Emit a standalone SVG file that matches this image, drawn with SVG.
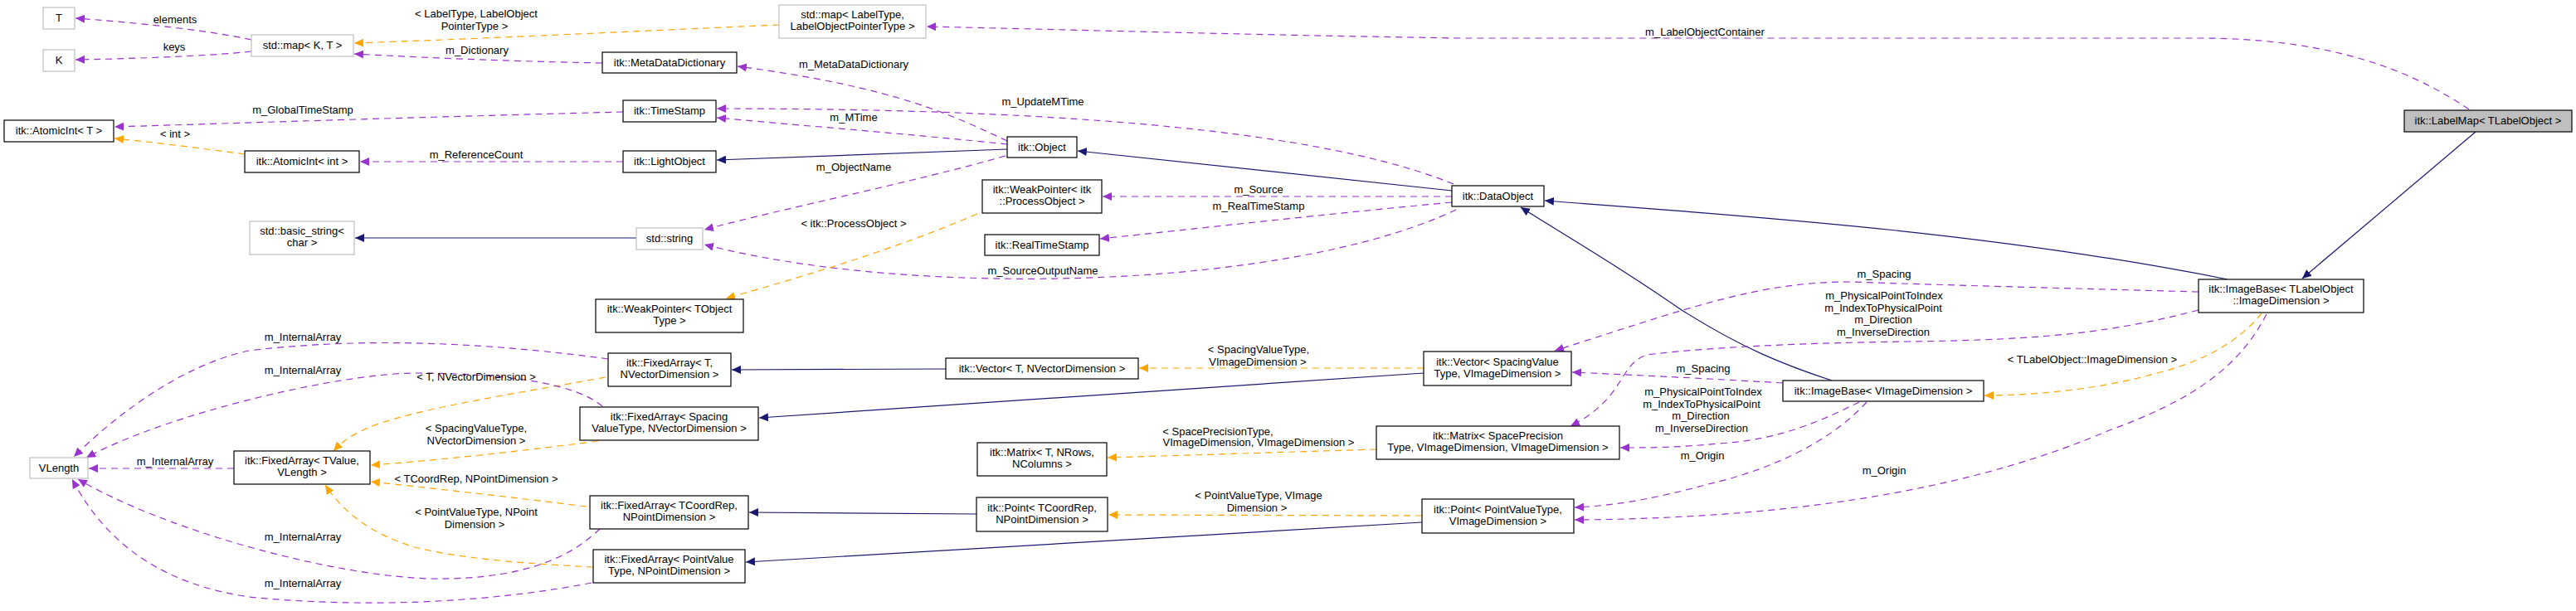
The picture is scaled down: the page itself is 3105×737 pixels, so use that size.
<svg xmlns="http://www.w3.org/2000/svg" width="3105" height="737" viewBox="0 0 3105 737">
<style>
text{font-family:"Liberation Sans",Arial,sans-serif;font-size:13px;fill:#000}
.n text{text-anchor:middle}
.b{fill:#fff;stroke:#000;stroke-width:1.2}
.g{fill:#fff;stroke:#bfbfbf;stroke-width:1.2}
.u{fill:none;stroke:#9a32cd;stroke-width:1.2;stroke-dasharray:8,6;marker-end:url(#mu)}
.t{fill:none;stroke:#ffa500;stroke-width:1.2;stroke-dasharray:8,6;marker-end:url(#mt)}
.i{fill:none;stroke:#191970;stroke-width:1.2;marker-end:url(#mi)}
.l text{text-anchor:middle}
</style>
<defs>
<marker id="mu" markerUnits="userSpaceOnUse" markerWidth="12" markerHeight="10" refX="11" refY="5" orient="auto"><path d="M0,0 L11,5 L0,10 z" fill="#9a32cd"/></marker>
<marker id="mt" markerUnits="userSpaceOnUse" markerWidth="12" markerHeight="10" refX="11" refY="5" orient="auto"><path d="M0,0 L11,5 L0,10 z" fill="#ffa500"/></marker>
<marker id="mi" markerUnits="userSpaceOnUse" markerWidth="12" markerHeight="10" refX="11" refY="5" orient="auto"><path d="M0,0 L11,5 L0,10 z" fill="#191970"/></marker>
</defs>
<rect width="3105" height="737" fill="#fff"/>
<g id="connectors">
<path class="u" d="M303,48 C250,36 150,26 91,22"/>
<path class="u" d="M303,62 C250,68 150,71 91,72"/>
<path class="t" d="M939,30 C800,36 600,46 427,52"/>
<path class="u" d="M726,76 C620,74 520,70 427,65"/>
<path class="u" d="M751,135 C550,140 300,148 138,153"/>
<path class="t" d="M295,186 C250,180 190,172 138,167"/>
<path class="u" d="M751,195 L434,195"/>
<path class="i" d="M767,287 L428,287"/>
<path class="i" d="M1214,180 L864,193"/>
<path class="u" d="M1214,170 C1150,140 1080,105 889,80"/>
<path class="u" d="M1214,174 C1100,162 950,150 864,142"/>
<path class="u" d="M1752,222 C1600,160 1300,131 864,131"/>
<path class="u" d="M1212,188 C1100,220 950,250 849,277"/>
<path class="i" d="M1750,230 L1299,182"/>
<path class="u" d="M1750,237 L1329,237"/>
<path class="u" d="M1750,244 C1600,258 1450,275 1326,288"/>
<path class="u" d="M1755,253 C1550,350 1100,360 849,295"/>
<path class="t" d="M1178,258 C1080,300 980,330 875,360"/>
<path class="u" d="M2976,132 C2900,80 2800,46 2650,46 L1760,46 C1500,42 1300,36 1117,32"/>
<path class="i" d="M2984,159 L2775,336"/>
<path class="i" d="M2685,337 C2400,280 2100,260 1862,242"/>
<path class="i" d="M2208,459 C2150,440 2100,420 2027,374 C1950,320 1880,280 1833,250"/>
<path class="t" d="M2726,378 C2700,410 2660,435 2600,450 C2530,470 2450,477 2392,477"/>
<path class="u" d="M2650,352 C2500,348 2350,344 2230,340 C2120,340 2040,370 1874,423"/>
<path class="u" d="M2650,374 C2550,400 2470,410 2300,412 C2150,414 2050,420 1985,428 C1950,440 1960,480 1893,514"/>
<path class="u" d="M2149,462 C2050,456 1960,452 1895,449"/>
<path class="u" d="M2241,485 C2200,505 2150,530 2072,535 C2020,540 1990,540 1953,540"/>
<path class="u" d="M2250,485 C2200,540 2120,570 2059,584 C2000,600 1950,610 1898,612"/>
<path class="u" d="M2732,379 C2700,440 2650,480 2540,520 C2400,580 2200,625 1898,627"/>
<path class="t" d="M1716,444 L1373,444"/>
<path class="i" d="M1716,450 L915,504"/>
<path class="t" d="M1659,542 L1335,552"/>
<path class="t" d="M1714,622 L1336,621"/>
<path class="i" d="M1714,630 L899,678"/>
<path class="i" d="M1140,445 L882,446"/>
<path class="i" d="M1177,620 L903,618"/>
<path class="t" d="M730,455 C620,475 520,490 460,510 C430,520 415,530 402,544"/>
<path class="t" d="M721,532 C620,545 530,555 447,561"/>
<path class="t" d="M707,611 C620,600 530,590 447,581"/>
<path class="t" d="M715,684 C640,680 560,675 500,660 C450,645 415,620 392,585"/>
<path class="u" d="M282,565 L107,565"/>
<path class="u" d="M733,433 C600,415 450,405 300,423 C220,440 140,500 89,551"/>
<path class="u" d="M726,490 C690,460 600,450 497,450 C400,452 200,500 104,552"/>
<path class="u" d="M723,638 C700,660 650,700 520,698 C400,695 200,640 94,578"/>
<path class="u" d="M713,703 C600,725 450,735 300,720 C200,705 130,660 87,578"/>
</g>
<g class="l">
<text x="211" y="28">elements</text>
<text x="210" y="61">keys</text>
<text x="574" y="21">&lt; LabelType, LabelObject</text>
<text x="572" y="36">PointerType &gt;</text>
<text x="575" y="65">m_Dictionary</text>
<text x="365" y="137">m_GlobalTimeStamp</text>
<text x="211" y="166">&lt; int &gt;</text>
<text x="574" y="191">m_ReferenceCount</text>
<text x="1029" y="82">m_MetaDataDictionary</text>
<text x="1257" y="127">m_UpdateMTime</text>
<text x="1029" y="146">m_MTime</text>
<text x="1029" y="206">m_ObjectName</text>
<text x="1517" y="233">m_Source</text>
<text x="1517" y="253">m_RealTimeStamp</text>
<text x="1029" y="274">&lt; itk::ProcessObject &gt;</text>
<text x="1257" y="331">m_SourceOutputName</text>
<text x="2055" y="43">m_LabelObjectContainer</text>
<text x="365" y="411">m_InternalArray</text>
<text x="365" y="451">m_InternalArray</text>
<text x="574" y="459">&lt; T, NVectorDimension &gt;</text>
<text x="574" y="521">&lt; SpacingValueType,</text>
<text x="574" y="536">NVectorDimension &gt;</text>
<text x="211" y="561">m_InternalArray</text>
<text x="574" y="582">&lt; TCoordRep, NPointDimension &gt;</text>
<text x="574" y="622">&lt; PointValueType, NPoint</text>
<text x="572" y="637">Dimension &gt;</text>
<text x="365" y="652">m_InternalArray</text>
<text x="365" y="708">m_InternalArray</text>
<text x="1517" y="426">&lt; SpacingValueType,</text>
<text x="1516" y="441">VImageDimension &gt;</text>
<text x="1468" y="525">&lt; SpacePrecisionType,</text>
<text x="1517" y="538">VImageDimension, VImageDimension &gt;</text>
<text x="1517" y="602">&lt; PointValueType, VImage</text>
<text x="1515" y="617">Dimension &gt;</text>
<text x="2271" y="335">m_Spacing</text>
<text x="2271" y="361">m_PhysicalPointToIndex</text>
<text x="2270" y="376">m_IndexToPhysicalPoint</text>
<text x="2270" y="390">m_Direction</text>
<text x="2270" y="405">m_InverseDirection</text>
<text x="2522" y="438">&lt; TLabelObject::ImageDimension &gt;</text>
<text x="2053" y="449">m_Spacing</text>
<text x="2053" y="477">m_PhysicalPointToIndex</text>
<text x="2051" y="492">m_IndexToPhysicalPoint</text>
<text x="2050" y="506">m_Direction</text>
<text x="2051" y="521">m_InverseDirection</text>
<text x="2052" y="554">m_Origin</text>
<text x="2271" y="572">m_Origin</text>
</g>
<g class="n" id="n_T"><rect class="g" x="52" y="9" width="38" height="26"/><text x="71" y="26">T</text></g>
<g class="n" id="n_K"><rect class="g" x="52" y="60" width="38" height="26"/><text x="71" y="77">K</text></g>
<g class="n" id="n_mapKT"><rect class="g" x="303" y="42" width="123" height="26"/><text x="364.5" y="59">std::map&lt; K, T &gt;</text></g>
<g class="n" id="n_mapLabel"><rect class="g" x="939" y="6" width="177" height="40"/><text x="1027.5" y="22">std::map&lt; LabelType,</text><text x="1027.5" y="36">LabelObjectPointerType &gt;</text></g>
<g class="n" id="n_MetaDataDictionary"><rect class="b" x="726" y="63" width="162" height="25"/><text x="807" y="80">itk::MetaDataDictionary</text></g>
<g class="n" id="n_TimeStamp"><rect class="b" x="751" y="121" width="112" height="26"/><text x="807" y="138">itk::TimeStamp</text></g>
<g class="n" id="n_AtomicIntT"><rect class="b" x="5" y="145" width="132" height="26"/><text x="71" y="162">itk::AtomicInt&lt; T &gt;</text></g>
<g class="n" id="n_AtomicIntInt"><rect class="b" x="295" y="182" width="138" height="26"/><text x="364" y="199">itk::AtomicInt&lt; int &gt;</text></g>
<g class="n" id="n_LightObject"><rect class="b" x="751" y="182" width="112" height="26"/><text x="807" y="199">itk::LightObject</text></g>
<g class="n" id="n_basic_string"><rect class="g" x="301" y="267" width="126" height="40"/><text x="364" y="283">std::basic_string&lt;</text><text x="364" y="297">char &gt;</text></g>
<g class="n" id="n_string"><rect class="g" x="767" y="275" width="80" height="26"/><text x="807" y="292">std::string</text></g>
<g class="n" id="n_WeakPointerT"><rect class="b" x="718" y="361" width="178" height="40"/><text x="807" y="377">itk::WeakPointer&lt; TObject</text><text x="807" y="391">Type &gt;</text></g>
<g class="n" id="n_Object"><rect class="b" x="1214" y="165" width="84" height="25"/><text x="1256" y="182">itk::Object</text></g>
<g class="n" id="n_WeakPointerPO"><rect class="b" x="1184" y="217" width="144" height="40"/><text x="1256" y="233">itk::WeakPointer&lt; itk</text><text x="1256" y="247">::ProcessObject &gt;</text></g>
<g class="n" id="n_RealTimeStamp"><rect class="b" x="1187" y="283" width="138" height="25"/><text x="1256" y="300">itk::RealTimeStamp</text></g>
<g class="n" id="n_DataObject"><rect class="b" x="1750" y="224" width="111" height="25"/><text x="1805.5" y="241">itk::DataObject</text></g>
<g class="n" id="n_LabelMap"><rect x="2898" y="133" width="202" height="26" fill="#bfbfbf" stroke="#000" stroke-width="1.2"/><text x="2999" y="150">itk::LabelMap&lt; TLabelObject &gt;</text></g>
<g class="n" id="n_ImageBaseTL"><rect class="b" x="2650" y="337" width="199" height="40"/><text x="2749.5" y="353">itk::ImageBase&lt; TLabelObject</text><text x="2749.5" y="367">::ImageDimension &gt;</text></g>
<g class="n" id="n_ImageBaseV"><rect class="b" x="2149" y="459" width="242" height="25"/><text x="2270" y="476">itk::ImageBase&lt; VImageDimension &gt;</text></g>
<g class="n" id="n_VectorSV"><rect class="b" x="1716" y="424" width="178" height="41"/><text x="1805" y="441">itk::Vector&lt; SpacingValue</text><text x="1805" y="455">Type, VImageDimension &gt;</text></g>
<g class="n" id="n_MatrixSP"><rect class="b" x="1659" y="514" width="293" height="40"/><text x="1805.5" y="530">itk::Matrix&lt; SpacePrecision</text><text x="1805.5" y="544">Type, VImageDimension, VImageDimension &gt;</text></g>
<g class="n" id="n_PointPV"><rect class="b" x="1714" y="602" width="183" height="41"/><text x="1805.5" y="619">itk::Point&lt; PointValueType,</text><text x="1805.5" y="633">VImageDimension &gt;</text></g>
<g class="n" id="n_VectorT"><rect class="b" x="1140" y="432" width="232" height="25"/><text x="1256" y="449">itk::Vector&lt; T, NVectorDimension &gt;</text></g>
<g class="n" id="n_MatrixT"><rect class="b" x="1178" y="534" width="156" height="40"/><text x="1256" y="550">itk::Matrix&lt; T, NRows,</text><text x="1256" y="564">NColumns &gt;</text></g>
<g class="n" id="n_PointTC"><rect class="b" x="1177" y="600" width="158" height="41"/><text x="1256" y="617">itk::Point&lt; TCoordRep,</text><text x="1256" y="631">NPointDimension &gt;</text></g>
<g class="n" id="n_FA_TNV"><rect class="b" x="733" y="426" width="148" height="40"/><text x="807" y="442">itk::FixedArray&lt; T,</text><text x="807" y="456">NVectorDimension &gt;</text></g>
<g class="n" id="n_FA_SNV"><rect class="b" x="699" y="491" width="215" height="40"/><text x="806.5" y="507">itk::FixedArray&lt; Spacing</text><text x="806.5" y="521">ValueType, NVectorDimension &gt;</text></g>
<g class="n" id="n_FA_TCNP"><rect class="b" x="711" y="598" width="191" height="40"/><text x="806.5" y="614">itk::FixedArray&lt; TCoordRep,</text><text x="806.5" y="628">NPointDimension &gt;</text></g>
<g class="n" id="n_FA_PVNP"><rect class="b" x="715" y="663" width="183" height="40"/><text x="806.5" y="679">itk::FixedArray&lt; PointValue</text><text x="806.5" y="693">Type, NPointDimension &gt;</text></g>
<g class="n" id="n_FA_TV"><rect class="b" x="282" y="544" width="164" height="40"/><text x="364" y="560">itk::FixedArray&lt; TValue,</text><text x="364" y="574">VLength &gt;</text></g>
<g class="n" id="n_VLength"><rect class="g" x="36" y="552" width="70" height="25"/><text x="71" y="569">VLength</text></g>
</svg>
